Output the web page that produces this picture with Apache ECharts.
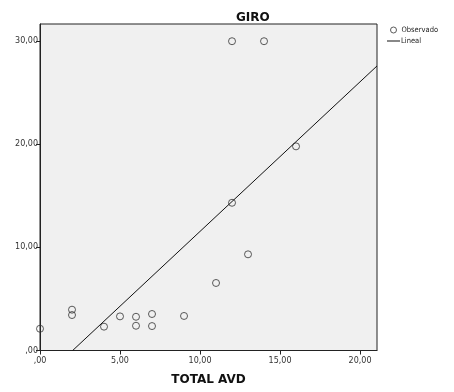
<!DOCTYPE html>
<html><head><meta charset="utf-8">
<script src="https://cdn.jsdelivr.net/npm/echarts@6/dist/echarts.min.js"></script>
<style>html,body{margin:0;padding:0;background:#fff}#c{width:454px;height:392px}</style>
</head><body><div id="c"></div>
<script>
const obsX = [0, 2, 2, 4, 5, 6, 6, 7, 7, 9, 11, 12, 12, 13, 14, 16];
const obsY = [2.11, 3.96, 3.44, 2.31, 3.31, 3.27, 2.40, 3.54, 2.37, 3.35, 6.55, 14.33, 30.0, 9.33, 30.0, 19.8];
const lineX = [2.04, 21.06];
const lineY = [0, 27.6];
const xTicks = [0, 5, 10, 15, 20];
const yTicks = [0, 10, 20, 30];
const fmt = v => v === 0 ? ',00' : v.toFixed(2).replace('.', ',');
const font = 'DejaVu Sans';
const legendText = { fontFamily: 'DejaVu Sans Condensed', fontSize: 7.5, color: '#222' };
const chart = echarts.init(document.getElementById('c'));
chart.setOption({
  animation: false,
  title: { text: 'GIRO', left: 231, top: 7, textStyle: { fontFamily: font, fontSize: 12, fontWeight: 'bold', color: '#111' } },
  legend: [
    {
      left: 385, top: 21, itemWidth: 6, itemHeight: 6, itemGap: 0, padding: 5,
      textStyle: Object.assign({}, legendText, { padding: [0, 0, 0, 0] }),
      data: [{ name: 'Observado', icon: 'circle', itemStyle: { color: '#fff', borderColor: '#333', borderWidth: 1 } }]
    },
    {
      left: 382, top: 32, itemWidth: 13, itemHeight: 1, itemGap: 0, padding: 5,
      textStyle: Object.assign({}, legendText, { padding: [0, 0, 0, -4] }),
      data: [{ name: 'Lineal', icon: 'rect', itemStyle: { color: '#111' } }]
    }
  ],
  grid: { left: 40, right: 77, top: 24, bottom: 41.5, show: true, backgroundColor: '#f0f0f0', borderColor: '#222', borderWidth: 1 },
  xAxis: {
    type: 'value', min: 0, max: 21.06, interval: 5,
    name: 'TOTAL AVD', nameLocation: 'middle', nameGap: 23,
    nameTextStyle: { fontFamily: font, fontSize: 12, fontWeight: 'bold', color: '#111' },
    axisLine: { show: true, onZero: false, lineStyle: { color: '#222' } },
    axisTick: { show: true, length: 4, customValues: xTicks, lineStyle: { color: '#222' } },
    axisLabel: { customValues: xTicks, formatter: fmt, fontFamily: font, fontSize: 8, color: '#333', margin: 6 },
    splitLine: { show: false }
  },
  yAxis: {
    type: 'value', min: 0, max: 31.67, interval: 10,
    axisLine: { show: true, onZero: false, lineStyle: { color: '#222' } },
    axisTick: { show: true, length: 4, customValues: yTicks, lineStyle: { color: '#222' } },
    axisLabel: { customValues: yTicks, formatter: fmt, fontFamily: font, fontSize: 8, color: '#333', margin: 2 },
    splitLine: { show: false }
  },
  series: [
    {
      name: 'Observado', type: 'scatter', symbol: 'circle', symbolSize: 7,
      itemStyle: { color: 'rgba(0,0,0,0)', borderColor: '#333', borderWidth: 1 },
      data: obsX.map((x, i) => [x, obsY[i]])
    },
    {
      name: 'Lineal', type: 'line', symbol: 'none', clip: true,
      lineStyle: { color: '#111', width: 1 }, itemStyle: { color: '#111' },
      data: lineX.map((x, i) => [x, lineY[i]])
    }
  ]
});
</script></body></html>
